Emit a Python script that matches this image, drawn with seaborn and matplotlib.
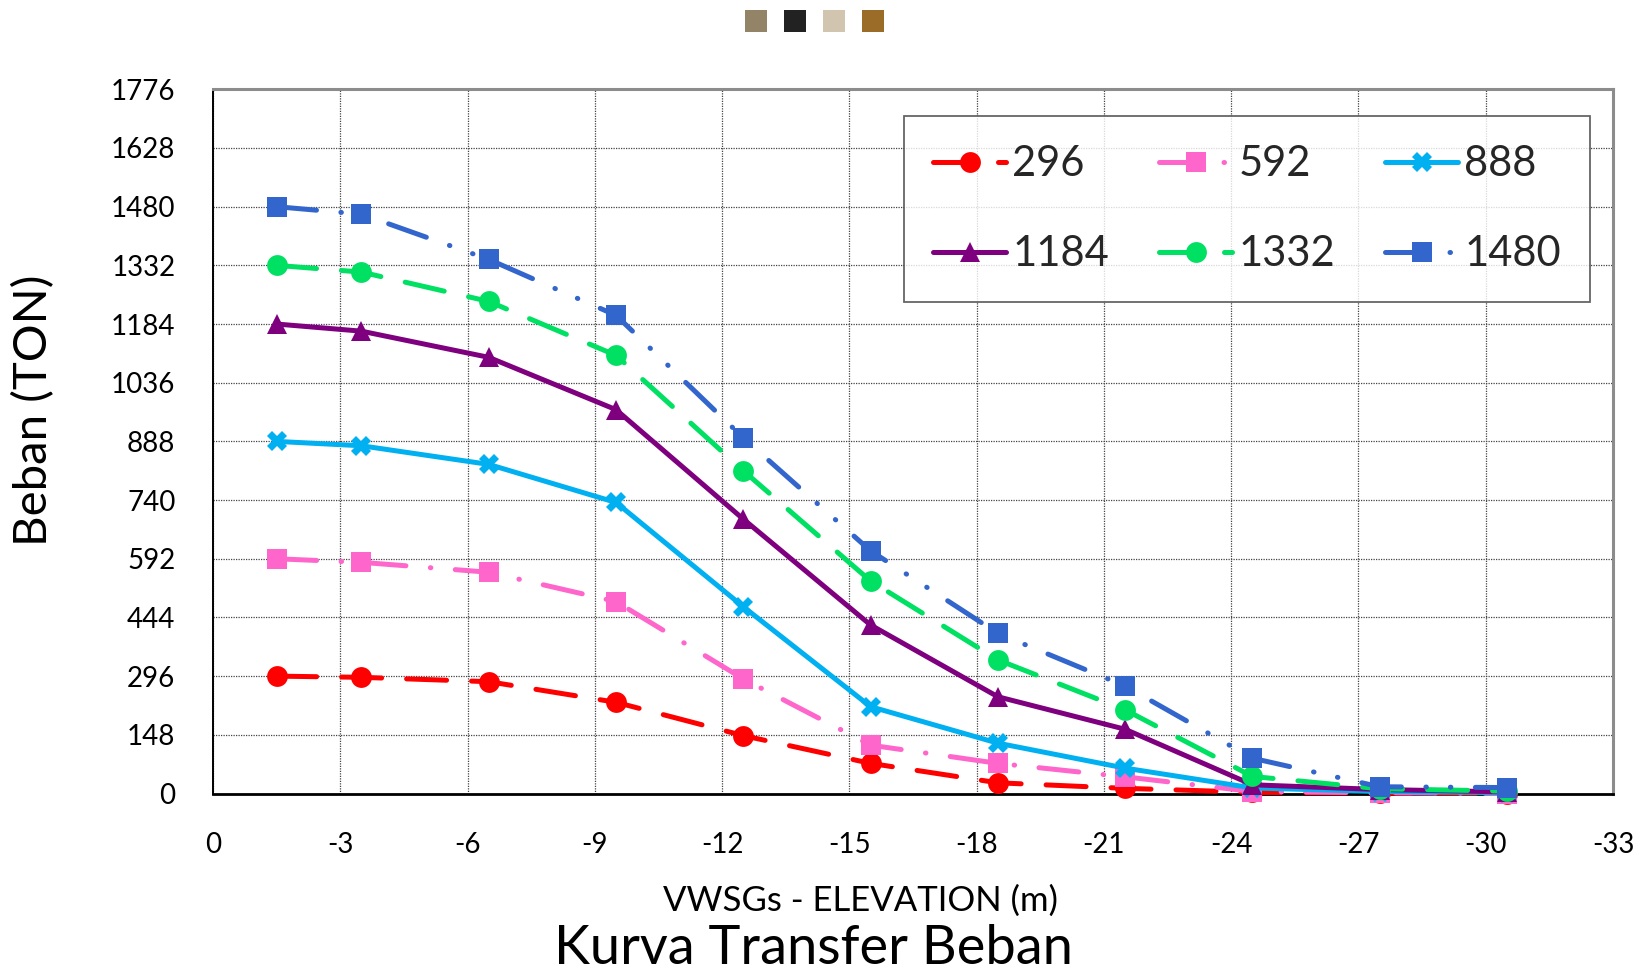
import matplotlib
matplotlib.use("Agg")
import matplotlib.pyplot as plt
from matplotlib.lines import Line2D
from matplotlib.patches import Rectangle
import pandas as pd
import seaborn as sns

# ---- data -------------------------------------------------------------
elevation = [-1.5, -3.5, -6.5, -9.5, -12.5, -15.5, -18.5, -21.5, -24.5, -27.5, -30.5]
load_296 = [296, 293, 282, 230, 146, 76, 27, 13, 3, 1, 0]
load_592 = [592, 583, 558, 484, 289, 122, 76, 42, 5, 2, 0]
load_888 = [888, 877, 830, 734, 471, 219, 127, 64, 14, 5, 2]
load_1184 = [1184, 1166, 1100, 968, 692, 425, 244, 162, 22, 10, 4]
load_1332 = [1332, 1315, 1241, 1105, 814, 536, 337, 211, 43, 12, 6]
load_1480 = [1480, 1461, 1347, 1206, 897, 612, 404, 271, 89, 17, 15]

series_names = ["296", "592", "888", "1184", "1332", "1480"]
series_values = [load_296, load_592, load_888, load_1184, load_1332, load_1480]

y_ticks = [0, 148, 296, 444, 592, 740, 888, 1036, 1184, 1332, 1480, 1628, 1776]
x_ticks = [0, -3, -6, -9, -12, -15, -18, -21, -24, -27, -30, -33]

title_text = "Kurva Transfer Beban"
x_label = "VWSGs - ELEVATION (m)"
y_label = "Beban (TON)"

# ---- styles -----------------------------------------------------------
palette = {"296": "#FF0000", "592": "#FF66CC", "888": "#00B0F0",
           "1184": "#7F007F", "1332": "#00E062", "1480": "#3366CC"}
markers = {"296": "o", "592": "s", "888": "X",
           "1184": "^", "1332": "o", "1480": "s"}
dashes = {"296": (8, 5), "592": (8, 4.9, 0.1, 4.9), "888": "",
          "1184": "", "1332": (8, 5), "1480": (8, 4.9, 0.1, 4.8, 0.1, 4.9)}
header_swatches = ["#938468", "#222222", "#D1C5AF", "#9A6C28"]

LW = 3.6
MS = 15

sns.set_style("white")
plt.rcParams["font.family"] = ["Lato", "DejaVu Sans"]
plt.rcParams["axes.unicode_minus"] = False

W, H = 1648, 974
fig = plt.figure(figsize=(W / 100, H / 100), dpi=100)
ax = fig.add_axes([213 / W, 1 - 793.5 / H, 1400 / W, 704.2 / H])

df = pd.DataFrame(
    [(name, x, v) for name, vals in zip(series_names, series_values)
     for x, v in zip(elevation, vals)],
    columns=["Seri", "Elevasi", "Beban"],
)

sns.lineplot(data=df, x="Elevasi", y="Beban", hue="Seri", style="Seri",
             hue_order=series_names, style_order=series_names,
             palette=palette, markers=markers, dashes=dashes,
             sort=False, estimator=None, legend=False, ax=ax,
             linewidth=LW, markersize=MS, markeredgewidth=0,
             dash_capstyle="round", solid_capstyle="round",
             dash_joinstyle="round", solid_joinstyle="round")

for i, line in enumerate(ax.get_lines()):
    line.set_clip_on(False)
    line.set_zorder(3 + i)

ax.set_xlim(0, -33)
ax.set_ylim(0, 1776)
ax.set_xticks(x_ticks)
ax.set_xticklabels([str(t) for t in x_ticks])
ax.set_yticks(y_ticks)
ax.set_yticklabels([str(t) for t in y_ticks])
ax.set_xlabel("")
ax.set_ylabel("")

ax.set_axisbelow(True)
ax.grid(True, which="major", linestyle=(0, (1, 1)), color="#444444", linewidth=0.9)

for side in ("top", "right"):
    ax.spines[side].set_color("#8C8C8C")
    ax.spines[side].set_linewidth(2.2)
ax.spines["left"].set_color("black")
ax.spines["left"].set_linewidth(1.4)
ax.spines["bottom"].set_color("black")
ax.spines["bottom"].set_linewidth(2.0)

ax.tick_params(axis="both", direction="out", length=8, width=1.2,
               color="black", labelsize=20, labelcolor="black")
ax.tick_params(axis="y", pad=19)
ax.tick_params(axis="x", pad=20)

# legend: two rows of three entries
handles = {}
for n in series_names:
    handles[n] = Line2D([], [], color=palette[n], marker=markers[n], markersize=MS,
                        markeredgewidth=0, linewidth=LW,
                        linestyle="-" if dashes[n] == "" else (0, dashes[n]),
                        dash_capstyle="round", solid_capstyle="round")
order = ["296", "1184", "592", "1332", "888", "1480"]
leg = ax.legend([handles[n] for n in order], order, ncol=3,
                loc="upper left", bbox_to_anchor=(0.4936, 0.709, 0.49, 0.253),
                mode="expand", borderaxespad=0, fontsize=30,
                handlelength=1.75, handletextpad=0.15, labelspacing=1.25,
                borderpad=0.7, frameon=True, fancybox=False)
leg.get_frame().set_edgecolor("#404040")
leg.get_frame().set_linewidth(1.3)

fig.text(34 / W, 1 - 410 / H, y_label, rotation=90, ha="center", va="center",
         fontsize=34, color="black")
fig.text(861 / W, 1 - 901 / H, x_label, ha="center", va="center",
         fontsize=25, color="black")
fig.text(813 / W, 1 - 948 / H, title_text, ha="center", va="center",
         fontsize=39, color="black")

for i, c in enumerate(header_swatches):
    x0 = 745 + 39 * i
    fig.add_artist(Rectangle((x0 / W, 1 - 32 / H), 22 / W, 22 / H,
                             transform=fig.transFigure, facecolor=c,
                             edgecolor="none"))

fig.savefig("out.png", dpi=100)
